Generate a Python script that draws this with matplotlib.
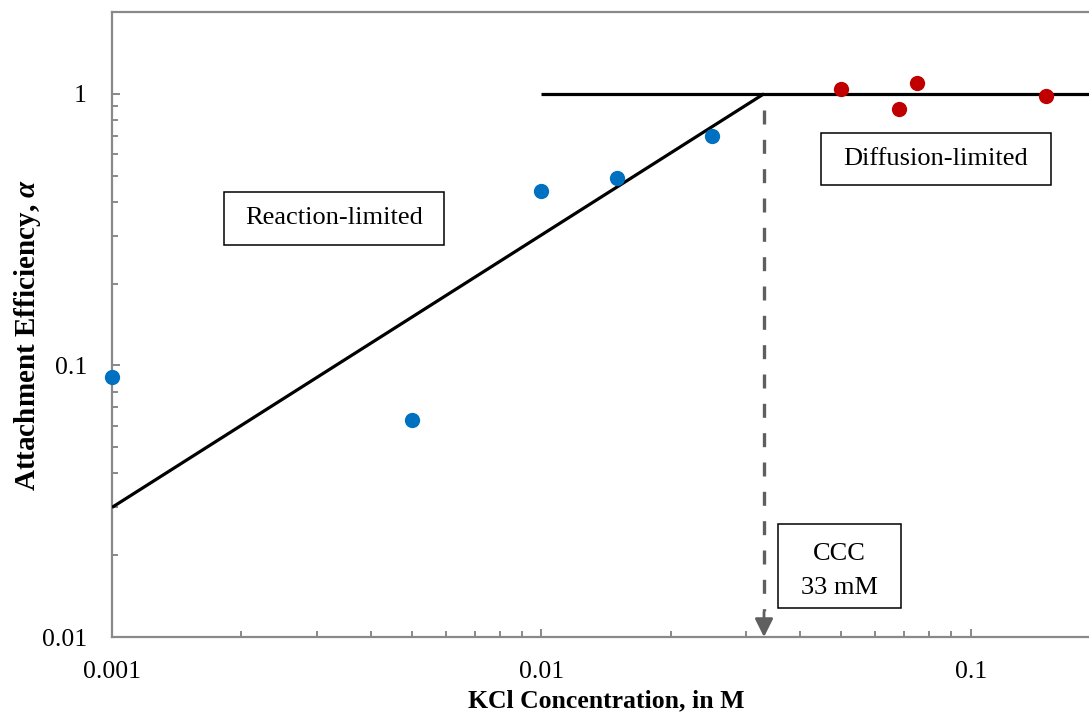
import matplotlib
matplotlib.use("Agg")
import matplotlib.pyplot as plt
from matplotlib.patches import Rectangle
from matplotlib.ticker import LogLocator, FixedLocator, FixedFormatter, NullFormatter

# ---- data ----
reaction_x = [0.001, 0.005, 0.01, 0.015, 0.025]
reaction_y = [0.091, 0.063, 0.44, 0.49, 0.70]
diffusion_x = [0.05, 0.068, 0.075, 0.15]
diffusion_y = [1.04, 0.88, 1.10, 0.98]
fit_reaction_x = [0.001, 0.033]
fit_reaction_y = [0.03, 1.0]
fit_diffusion_x = [0.01, 0.2]
fit_diffusion_y = [1.0, 1.0]
ccc = 0.033
xticks = [0.001, 0.01, 0.1]
xtick_labels = ["0.001", "0.01", "0.1"]
yticks = [0.01, 0.1, 1]
ytick_labels = ["0.01", "0.1", "1"]

plt.rcParams['font.family'] = ['Liberation Serif', 'DejaVu Serif']
plt.rcParams['mathtext.fontset'] = 'custom'
plt.rcParams['mathtext.it'] = 'Liberation Serif:italic:bold'
plt.rcParams['mathtext.rm'] = 'Liberation Serif:bold'

W, H = 1089, 717
fig = plt.figure(figsize=(W / 100, H / 100), dpi=100)
L, R, T, B = 112, 1100, 12, 637
ax = fig.add_axes([L / W, (H - B) / H, (R - L) / W, (B - T) / H])
ax.set_xscale('log')
ax.set_yscale('log')
ax.set_xlim(0.001, 0.2)
ax.set_ylim(0.01, 2)

gray = '#898989'
for s in ['left', 'bottom', 'top']:
    ax.spines[s].set_color(gray)
    ax.spines[s].set_linewidth(1.6)
ax.spines['right'].set_visible(False)

ax.xaxis.set_major_locator(FixedLocator(xticks))
ax.xaxis.set_major_formatter(FixedFormatter(xtick_labels))
ax.yaxis.set_major_locator(FixedLocator(yticks))
ax.yaxis.set_major_formatter(FixedFormatter(ytick_labels))
ax.xaxis.set_minor_locator(LogLocator(base=10, subs=range(2, 10)))
ax.yaxis.set_minor_locator(LogLocator(base=10, subs=range(2, 10)))
ax.xaxis.set_minor_formatter(NullFormatter())
ax.yaxis.set_minor_formatter(NullFormatter())
ax.tick_params(which='both', direction='in', color=gray, width=1.4, labelsize=18.5,
               top=False, right=False)
ax.tick_params(which='major', length=6)
ax.tick_params(which='minor', length=4.5)
ax.tick_params(axis='x', which='major', pad=17)
ax.tick_params(axis='y', which='major', pad=18)

# fit lines
ax.plot(fit_reaction_x, fit_reaction_y, color='black', lw=2.3, solid_capstyle='butt', zorder=3)
ax.plot(fit_diffusion_x, fit_diffusion_y, color='black', lw=2.3, solid_capstyle='butt', zorder=3)

# CCC dashed arrow
dash_color = '#5f5f5f'
ax.plot([ccc, ccc], [0.87, 0.0125], color=dash_color, lw=2.4,
        linestyle=(0, (4.2, 4.6)), zorder=2)
ax.annotate('', xy=(ccc, 0.01), xytext=(0, 18), textcoords='offset points',
            arrowprops=dict(arrowstyle='-|>,head_length=1.1,head_width=0.55',
                            color=dash_color, lw=2.0, shrinkA=0, shrinkB=0), zorder=2)

# data points
ax.plot(reaction_x, reaction_y, 'o', color='#0070C0', markersize=11, markeredgewidth=0,
        clip_on=False, zorder=4)
ax.plot(diffusion_x, diffusion_y, 'o', color='#C00000', markersize=11, markeredgewidth=0,
        clip_on=False, zorder=4)

# text boxes (axes fraction)
def box(x0, y0, w, h, text, ls=1.2, dy=0.0):
    ax.add_patch(Rectangle((x0, y0), w, h, transform=ax.transAxes, facecolor='white',
                           edgecolor='black', lw=1.1, zorder=5))
    ax.text(x0 + w / 2, y0 + h / 2 + dy, text, transform=ax.transAxes, ha='center',
            va='center', fontsize=19, zorder=6, linespacing=ls)

box(0.1134, 0.6272, 0.2227, 0.0848, "Reaction-limited")
box(0.7176, 0.7232, 0.2328, 0.0837, "Diffusion-limited")
box(0.6744, 0.0459, 0.1242, 0.1349, "CCC\n33 mM", ls=1.68, dy=-0.008)

ax.set_xlabel("KCl Concentration, in M", fontsize=18.5, fontweight='bold', labelpad=5)
ax.set_ylabel(r"Attachment Efficiency, $\mathit{\alpha}$", fontsize=21,
              fontweight='bold')
ax.yaxis.set_label_coords(-0.0698, 0.483)

fig.savefig("out.png", dpi=100)
